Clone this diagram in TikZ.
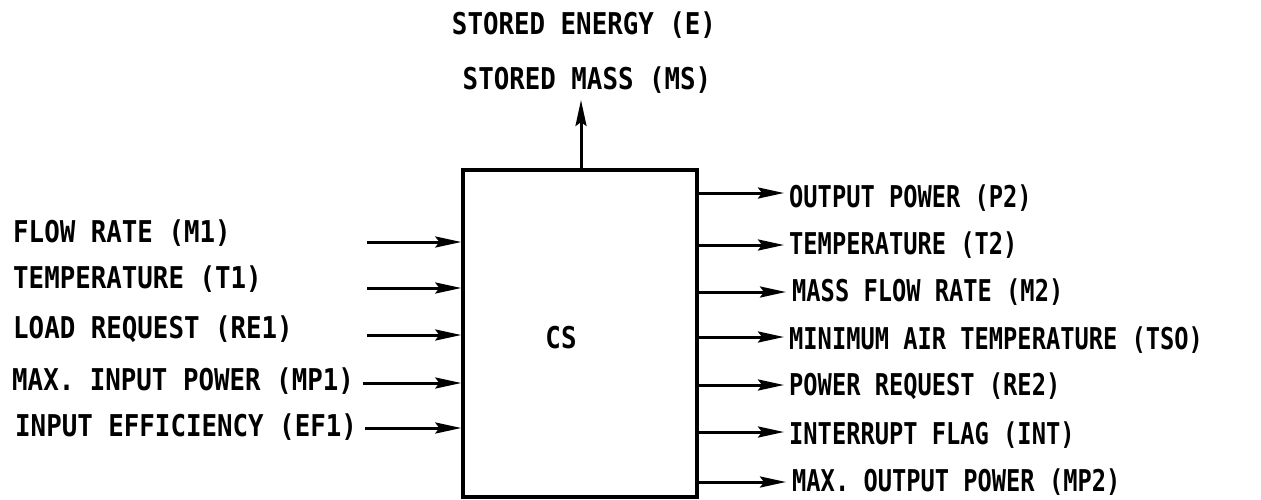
\documentclass[tikz,border=0pt]{standalone}
\usepackage{fontspec}
\usetikzlibrary{arrows.meta}
\newfontfamily\leftfont[FakeStretch=0.86]{DejaVu Sans Mono Bold}
\newfontfamily\rightfont[FakeStretch=0.79]{DejaVu Sans Mono Bold}
\tikzset{
  arr/.style={line width=3pt,-{Stealth[length=26pt,width=11pt,inset=4pt]}},
  lbl/.style={inner sep=0pt,font=\leftfont\fontsize{30}{30}\selectfont},
  rlbl/.style={inner sep=0pt,anchor=west,font=\rightfont\fontsize{30}{30}\selectfont},
  boxst/.style={draw,line width=3.4pt,minimum width=234pt,minimum height=327pt,inner sep=0pt}
}
\begin{document}
\begin{tikzpicture}[x=1pt,y=-1pt]
\useasboundingbox (0,0) rectangle (1261,499);
\node[boxst] (cs) at (580,333.5) {};
\node[lbl] (cslabel) at (561,338) {CS};
% top
\node[lbl] (e) at (584,25) {STORED ENERGY (E)};
\node[lbl] (ms) at (587,80) {STORED MASS (MS)};
\coordinate (toptip) at (581,100);
\draw[arr] (cs.north -| toptip) -- (toptip);
% left inputs
\node[lbl,anchor=west] (m1) at (13,233) {FLOW RATE (M1)};
\node[lbl,anchor=west] (t1) at (13,279) {TEMPERATURE (T1)};
\node[lbl,anchor=west] (re1) at (13,329) {LOAD REQUEST (RE1)};
\node[lbl,anchor=west] (mp1) at (12,381) {MAX. INPUT POWER (MP1)};
\node[lbl,anchor=west] (ef1) at (15,427) {INPUT EFFICIENCY (EF1)};
\coordinate (i1) at (367,242);
\coordinate (i2) at (367,288);
\coordinate (i3) at (367,335);
\coordinate (i4) at (363,383);
\coordinate (i5) at (365,428);
\foreach \c in {i1,i2,i3,i4,i5}{\draw[arr] (\c) -- (cs.west |- \c);}
% right outputs
\node[rlbl] (p2) at (789,198) {OUTPUT POWER (P2)};
\node[rlbl] (t2) at (789,245) {TEMPERATURE (T2)};
\node[rlbl] (m2) at (792,292) {MASS FLOW RATE (M2)};
\node[rlbl] (tso) at (789,340) {MINIMUM AIR TEMPERATURE (TSO)};
\node[rlbl] (re2) at (789,386) {POWER REQUEST (RE2)};
\node[rlbl] (int) at (789,435) {INTERRUPT FLAG (INT)};
\node[rlbl] (mp2) at (792,482) {MAX. OUTPUT POWER (MP2)};
\coordinate (o1) at (784,193);
\coordinate (o2) at (784,245);
\coordinate (o3) at (786,292);
\coordinate (o4) at (784,337);
\coordinate (o5) at (784,385);
\coordinate (o6) at (784,432);
\coordinate (o7) at (786,482);
\foreach \c in {o1,o2,o3,o4,o5,o6,o7}{\draw[arr] (cs.east |- \c) -- (\c);}
\end{tikzpicture}
\end{document}
